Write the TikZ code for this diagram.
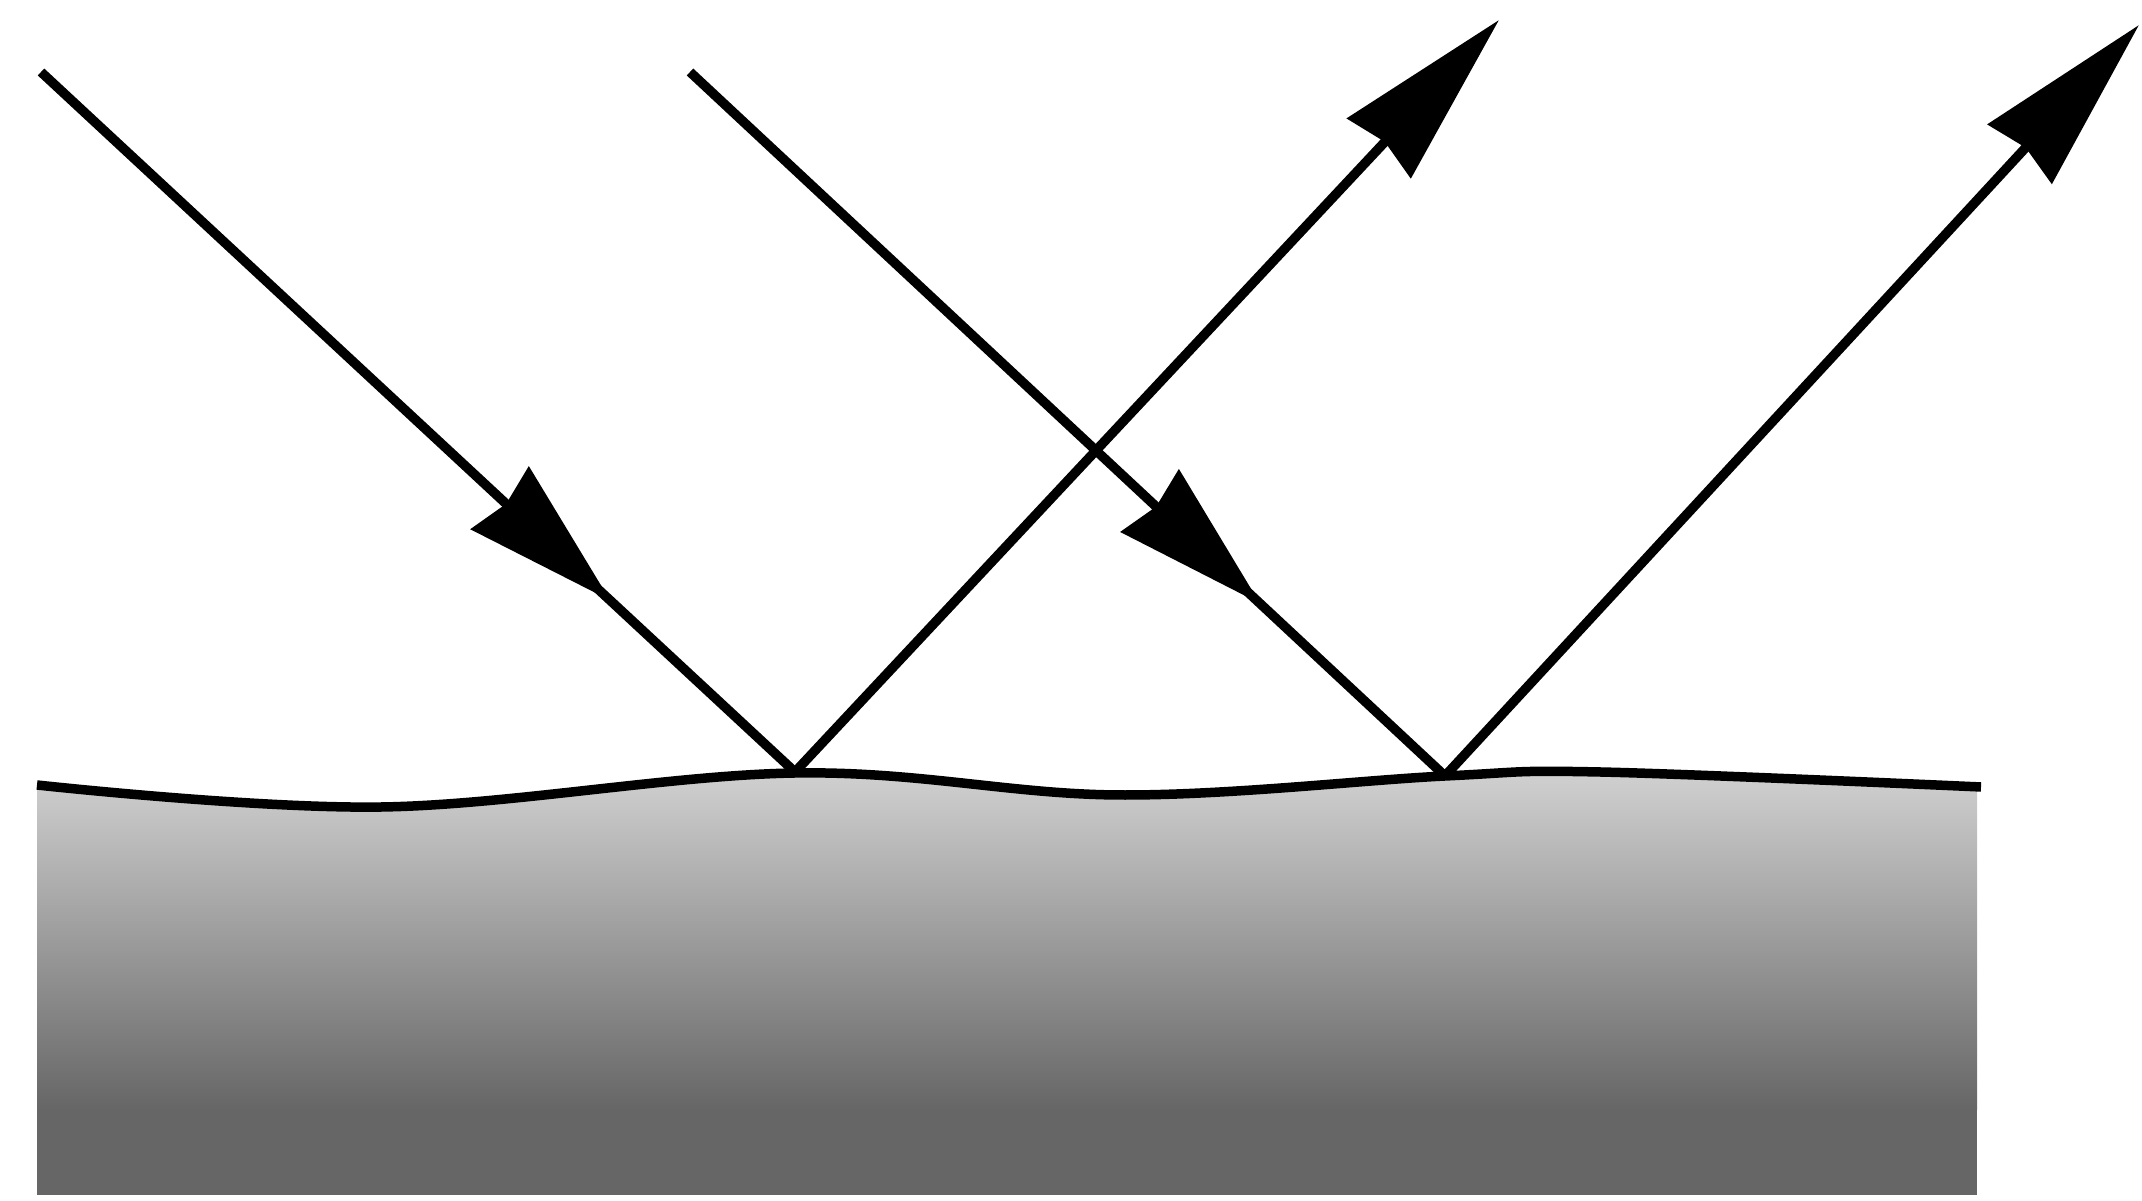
\documentclass[tikz,border=0pt]{standalone}
\usetikzlibrary{arrows.meta,decorations.markings}
\definecolor{topg}{RGB}{212,212,212}
\definecolor{botg}{RGB}{102,102,102}
\tikzset{
  ray/.style={line width=0.95mm, black},
  bighead/.style={-{Stealth[length=17.5mm,width=8.6mm,inset=0.8mm]}},
  midhead/.style={postaction={decorate},decoration={markings,
     mark=at position 0.755 with {\arrow{Stealth[length=15mm,width=8.4mm,inset=0.8mm]}}}},
  surf/.style={line width=0.95mm, black}
}
\begin{document}
\begin{tikzpicture}[x=0.1mm,y=-0.1mm]
\useasboundingbox (0,0) rectangle (2142,1201);
% coordinates
\coordinate (s1) at (41,72);
\coordinate (h1) at (795,772);
\coordinate (t1) at (1499,20);
\coordinate (s2) at (690,72);
\coordinate (h2) at (1445,776);
\coordinate (t2) at (2139,25);
% material block
\begin{scope}
  \clip plot[smooth,tension=0.6] coordinates {(37,785) (382,807) (795,773) (1120,795) (1445,776) (1600,772) (1981,787)}
        -- (1977,1195) -- (37,1195) -- cycle;
  \shade[top color=topg, bottom color=botg] (37,760) rectangle (1977,1110);
  \fill[botg] (37,1109) rectangle (1977,1196);
\end{scope}
% surface line
\draw[surf] plot[smooth,tension=0.6] coordinates {(37,785) (382,807) (795,773) (1120,795) (1445,776) (1600,772) (1981,787)};
% rays
\draw[ray, midhead] (s1) -- (h1);
\draw[ray, bighead] (h1) -- (t1);
\draw[ray, midhead] (s2) -- (h2);
\draw[ray, bighead] (h2) -- (t2);
\end{tikzpicture}
\end{document}
